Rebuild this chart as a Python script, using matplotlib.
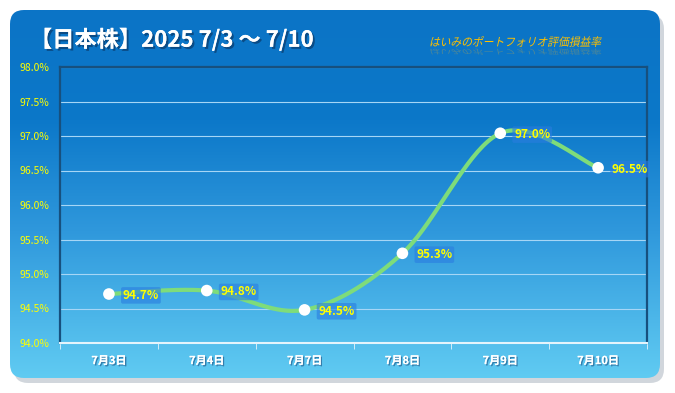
import numpy as np
import matplotlib.pyplot as plt
from matplotlib.patches import FancyBboxPatch, PathPatch
from matplotlib.colors import LinearSegmentedColormap
from matplotlib.textpath import TextPath
from matplotlib.font_manager import FontProperties
from matplotlib.transforms import Affine2D
import matplotlib.patheffects as pe

plt.rcParams['font.family'] = ['Noto Sans CJK JP', 'DejaVu Sans']

# データ
dates = ['7月3日', '7月4日', '7月7日', '7月8日', '7月9日', '7月10日']
rates = [94.71, 94.76, 94.48, 95.30, 97.04, 96.54]
y_ticks = [94.0, 94.5, 95.0, 95.5, 96.0, 96.5, 97.0, 97.5, 98.0]
title = '【日本株】2025 7/3 〜 7/10'
subtitle = 'はいみのポートフォリオ評価損益率'

W, H = 675, 393
fig = plt.figure(figsize=(W / 100, H / 100), dpi=100)
fig.patch.set_facecolor('white')

# 背景パネル (角丸 + グラデーション)
bg = fig.add_axes([0, 0, 1, 1])
bg.axis('off')
shadow = FancyBboxPatch((14, 15), 650, 368, boxstyle='round,pad=0,rounding_size=14',
                        facecolor='#9aa6b2', edgecolor='none', alpha=0.45, zorder=1)
bg.add_patch(shadow)
panel = FancyBboxPatch((10, 10), 650, 368, boxstyle='round,pad=0,rounding_size=14',
                       facecolor='none', edgecolor='none')
bg.add_patch(panel)
cmap = LinearSegmentedColormap.from_list(
    'panel', [(0, '#0B74C6'), (0.3, '#0C78C9'), (0.6, '#2F98DC'), (1, '#60CBF2')])
grad = np.linspace(0, 1, 256).reshape(-1, 1)
im = bg.imshow(grad, cmap=cmap, extent=[10, 660, 378, 10], aspect='auto', zorder=2)
im.set_clip_path(panel)
bg.set_xlim(0, W)
bg.set_ylim(H, 0)

fig.text(30 / W, 1 - 40 / H, title, color='white', fontsize=16, fontweight='bold',
         va='center', ha='left',
         path_effects=[pe.withSimplePatchShadow(offset=(1.5, -1.5), shadow_rgbFace='#0A3A6A', alpha=0.7),
                       pe.Normal()])

# 斜体風サブタイトル (CJKフォントに斜体がないので変形で傾ける) + 反射
fp = FontProperties(family='Noto Sans CJK JP', size=12)
tp = TextPath((0, 0), subtitle, prop=fp)
sc = 185 / tp.get_extents().width
tr = Affine2D().scale(sc * 0.92, -sc).skew_deg(-12, 0).translate(429, 46)
refl = Affine2D().scale(sc * 0.92, sc * 0.6).skew_deg(12, 0).translate(429, 49)
bg.add_patch(PathPatch(refl.transform_path(tp), facecolor='#E0B030', edgecolor='none', alpha=0.3, zorder=3))
bg.add_patch(PathPatch(tr.transform_path(tp), facecolor='#FFC000', edgecolor='none', zorder=4))

# グラフ本体
ax = fig.add_axes([60 / W, 1 - 343 / H, 587 / W, 276 / H])
ax.patch.set_alpha(0)
x = np.arange(len(dates))
ax.set_xlim(-0.5, len(dates) - 0.5)
ax.set_ylim(94.0, 98.0)

for s in ['left', 'top', 'right']:
    ax.spines[s].set_color('#17507E')
    ax.spines[s].set_linewidth(1.6)
ax.spines['bottom'].set_color('#E4F4FC')
ax.spines['bottom'].set_linewidth(1.5)

ax.set_yticks(y_ticks)
ax.set_yticklabels([f'{v:.1f}%' for v in y_ticks])
ax.tick_params(axis='y', length=0, pad=8, labelsize=7.5, labelcolor='#FFFF00')
ax.grid(axis='y', color='#A6D6F6', linewidth=0.8)
ax.set_axisbelow(True)

ax.set_xticks(x)
ax.set_xticklabels(dates)
ax.tick_params(axis='x', which='major', length=0, pad=8, labelsize=8, labelcolor='white')
for lbl in ax.get_xticklabels():
    lbl.set_fontweight('bold')
    lbl.set_path_effects([pe.withSimplePatchShadow(offset=(1, -1), shadow_rgbFace='#1A4F80', alpha=0.6),
                          pe.Normal()])
ax.set_xticks(np.arange(-0.5, len(dates)), minor=True)
ax.tick_params(axis='x', which='minor', length=4, color='#E4F4FC', direction='out')


# なめらかな線 (Catmull-Rom)
def smooth(xs, ys, n=40):
    px = np.concatenate([[xs[0]], xs, [xs[-1]]])
    py = np.concatenate([[ys[0]], ys, [ys[-1]]])
    outx, outy = [], []
    t = np.linspace(0, 1, n)
    for i in range(1, len(px) - 2):
        for p, out in ((px, outx), (py, outy)):
            p0, p1, p2, p3 = p[i - 1], p[i], p[i + 1], p[i + 2]
            out.extend(0.5 * ((2 * p1) + (-p0 + p2) * t + (2 * p0 - 5 * p1 + 4 * p2 - p3) * t ** 2
                              + (-p0 + 3 * p1 - 3 * p2 + p3) * t ** 3))
    return np.array(outx), np.array(outy)


sx, sy = smooth(x.astype(float), np.array(rates))
ax.plot(sx, sy, color='#7EDC7A', linewidth=3, solid_capstyle='round', zorder=3)
ax.scatter(x, rates, s=70, color='white', zorder=4, edgecolors='none')

for xi, v in zip(x, rates):
    ax.annotate(f'{v:.1f}%', (xi, v), xytext=(10, -1), textcoords='offset points',
                ha='left', va='center', fontsize=8.5, fontweight='bold', color='#FFFF00',
                bbox=dict(boxstyle='round,pad=0.15', facecolor='#2A7DE0', edgecolor='none', alpha=0.6),
                zorder=5)

fig.savefig('out.png', dpi=100)
